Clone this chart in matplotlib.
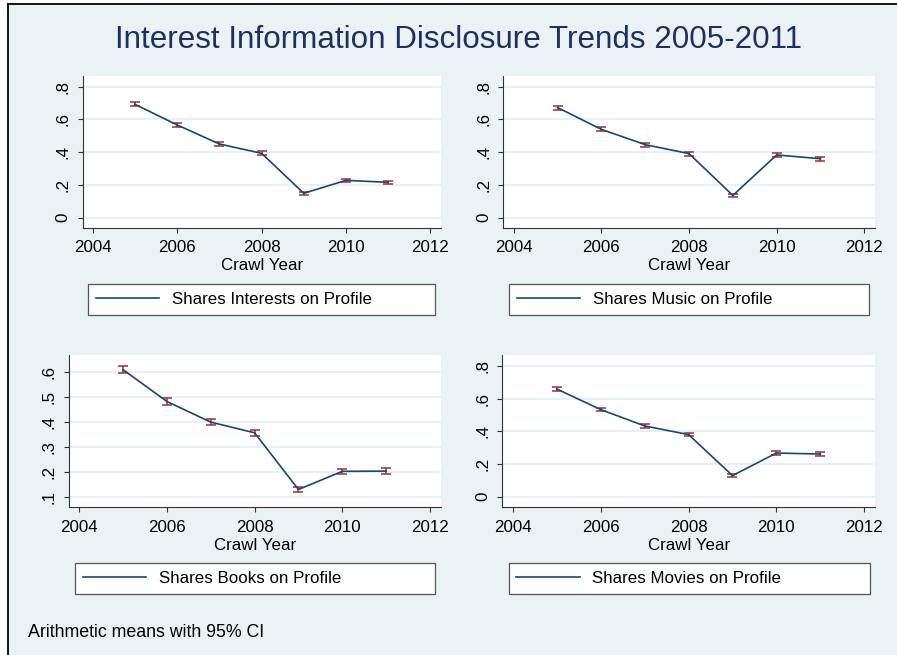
import matplotlib
matplotlib.use("Agg")
import matplotlib.pyplot as plt
from matplotlib.lines import Line2D
from matplotlib.patches import Rectangle
from matplotlib.ticker import FixedLocator, FuncFormatter

plt.rcParams["font.family"] = ["Liberation Sans", "DejaVu Sans"]

# data (means and 95% CI half-widths)
years = [2005, 2006, 2007, 2008, 2009, 2010, 2011]

interests_mean = [0.692, 0.566, 0.450, 0.393, 0.149, 0.228, 0.216]
interests_ci = [0.012, 0.012, 0.012, 0.012, 0.010, 0.011, 0.011]

music_mean = [0.672, 0.539, 0.446, 0.391, 0.136, 0.383, 0.360]
music_ci = [0.012, 0.012, 0.012, 0.012, 0.010, 0.012, 0.012]

books_mean = [0.611, 0.483, 0.400, 0.357, 0.129, 0.202, 0.203]
books_ci = [0.013, 0.013, 0.013, 0.013, 0.009, 0.011, 0.012]

movies_mean = [0.659, 0.533, 0.433, 0.380, 0.129, 0.267, 0.261]
movies_ci = [0.011, 0.011, 0.011, 0.011, 0.009, 0.010, 0.010]

legend_labels = [
    "Shares Interests on Profile",
    "Shares Music on Profile",
    "Shares Books on Profile",
    "Shares Movies on Profile",
]

x_ticks = [2004, 2006, 2008, 2010, 2012]
y_ticks_08 = [0, 0.2, 0.4, 0.6, 0.8]
y_ticks_books = [0.1, 0.2, 0.3, 0.4, 0.5, 0.6]

BG = "#EAF2F3"
NAVY = "#1A476F"
CRANBERRY = "#90353B"
AXIS = "#333333"

W, H = 897, 655


def fig_rect(left, top, right, bottom):
    return [left / W, 1 - bottom / H, (right - left) / W, (bottom - top) / H]


def stata_label(v, _pos=None):
    if abs(v) < 1e-9:
        return "0"
    s = f"{v:.1f}"
    return s[1:] if s.startswith("0") else s


panels = [
    (interests_mean, interests_ci, y_ticks_08, (-0.061, 0.865),
     fig_rect(82.7, 76, 440.7, 227.7), fig_rect(88, 283, 435, 316)),
    (music_mean, music_ci, y_ticks_08, (-0.061, 0.865),
     fig_rect(503.3, 76, 875, 227.7), fig_rect(509, 283, 869, 316)),
    (books_mean, books_ci, y_ticks_books, (0.0574, 0.670),
     fig_rect(68.7, 355, 440.7, 507.3), fig_rect(75, 562, 435, 595)),
    (movies_mean, movies_ci, y_ticks_08, (-0.065, 0.867),
     fig_rect(502.3, 355, 875, 507.3), fig_rect(508.5, 562, 870, 595)),
]

fig = plt.figure(figsize=(W / 100 + 1e-4, H / 100 + 1e-4), dpi=100, facecolor="white")
# graph region background, outer border only visible on the left and top
x_edge, y_edge = 8 / W, 1 - 4 / H
fig.add_artist(Rectangle((x_edge, -0.05), 1.1 - x_edge, y_edge + 0.05,
                         transform=fig.transFigure, facecolor=BG, edgecolor="none",
                         zorder=-10))
fig.add_artist(Line2D([x_edge, x_edge], [-0.05, y_edge], transform=fig.transFigure,
                      color="black", linewidth=1.3, zorder=-9))
fig.add_artist(Line2D([x_edge, 1.1], [y_edge, y_edge], transform=fig.transFigure,
                      color="black", linewidth=1.3, zorder=-9))

for (mean, ci, yt, ylim, rect, leg_rect), label in zip(panels, legend_labels):
    ax = fig.add_axes(rect)
    ax.set_facecolor("white")
    ax.errorbar(years, mean, yerr=ci, fmt="none", ecolor=CRANBERRY, elinewidth=1.1,
                capsize=3.4, capthick=1.1, zorder=3)
    line, = ax.plot(years, mean, color=NAVY, linewidth=1.2, zorder=4, label=label)

    ax.set_xlim(2003.76, 2012.245)
    ax.set_ylim(*ylim)
    ax.xaxis.set_major_locator(FixedLocator(x_ticks))
    ax.yaxis.set_major_locator(FixedLocator(yt))
    ax.yaxis.set_major_formatter(FuncFormatter(stata_label))
    ax.grid(axis="y", color="#E3ECEE", linewidth=1.1)
    ax.set_axisbelow(True)

    for side in ("top", "right"):
        ax.spines[side].set_visible(False)
    for side in ("left", "bottom"):
        ax.spines[side].set_color(AXIS)
        ax.spines[side].set_linewidth(0.8)

    ax.tick_params(axis="both", direction="out", length=3.8, width=0.8, color=AXIS,
                   labelsize=12.2, labelcolor="black")
    ax.tick_params(axis="x", pad=5)
    ax.tick_params(axis="y", pad=5)
    for t in ax.get_yticklabels():
        t.set_rotation(90)
        t.set_va("center")
    ax.set_xlabel("Crawl Year", fontsize=12.2, labelpad=2.5)

    ax.legend(handles=[line], loc="center", mode="expand",
              bbox_to_anchor=leg_rect, bbox_transform=fig.transFigure,
              fontsize=12.2, frameon=True, fancybox=False, framealpha=1,
              edgecolor="#555555", handlelength=3.75, handletextpad=0.75,
              borderpad=0.45, borderaxespad=0).get_frame().set_linewidth(0.9)

fig.text(458 / W, 1 - 48.3 / H, "Interest Information Disclosure Trends 2005-2011",
         ha="center", va="baseline", fontsize=22.6, color="#1C3160")
fig.text(28 / W, 1 - 636.5 / H, "Arithmetic means with 95% CI",
         ha="left", va="baseline", fontsize=12.8, color="black")

fig.savefig("out.png", dpi=100, facecolor="white")
